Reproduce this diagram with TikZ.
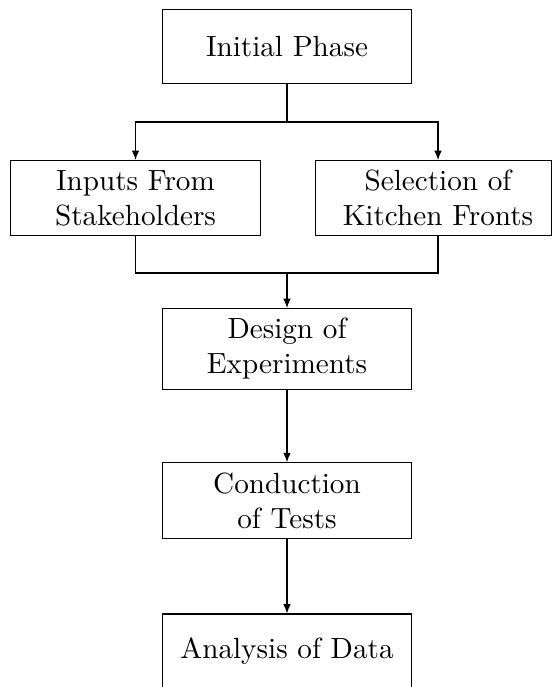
\documentclass[tikz,border=0pt]{standalone}
\usetikzlibrary{arrows.meta}
\tikzset{
  box/.style={draw, align=center, minimum width=3cm, minimum height=0.9cm, inner sep=0.3333em},
  frame/.style={draw, minimum width=236*0.3425pt, minimum height=0.9cm, inner sep=0pt},
  plain/.style={align=center, inner sep=0.3333em},
  arr/.style={-{Latex[length=3.2pt,width=2.6pt]}},
}
\begin{document}
\begin{tikzpicture}[x=0.3425pt,y=-0.3425pt]
\useasboundingbox (0,0) rectangle (552,687);
\node[box] (init) at (287,46.5) {Initial Phase};
\node[box] (inp) at (135.5,198) {Inputs From\\Stakeholders};
\node[frame] (selbox) at (433.5,198) {};
\node[plain] (sel) at (438,198) {Selection of\\Kitchen Fronts};
\node[box] (des) at (287,349) {Design of\\Experiments};
\node[box] (con) at (287,500.5) {Conduction\\of Tests};
\node[box] (ana) at (287,651.4) {Analysis of Data};
\coordinate (j1) at (287,122);
\coordinate (j2) at (287,273);
\draw (init.south) -- (j1);
\draw[arr] (j1) -| (inp.north);
\draw[arr] (j1) -| (sel.north |- selbox.north);
\draw (inp.south) |- (j2);
\draw (sel.south |- selbox.south) |- (j2);
\draw[arr] (j2) -- (des.north);
\draw[arr] (des.south) -- (con.north);
\draw[arr] (con.south) -- (ana.north);
\end{tikzpicture}
\end{document}
